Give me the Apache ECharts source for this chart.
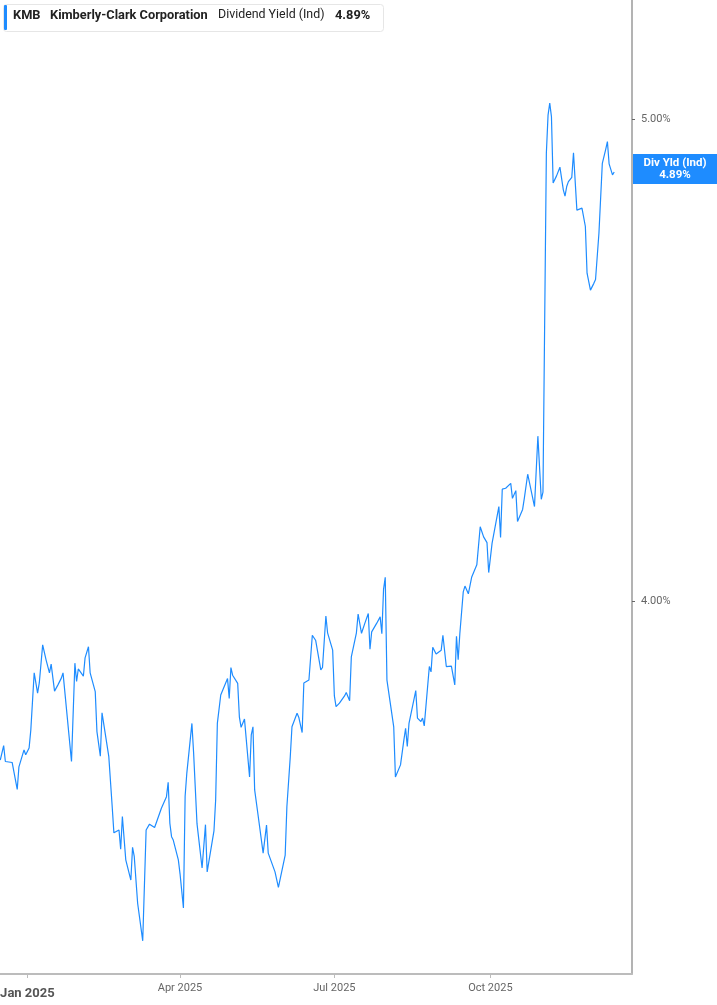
<!DOCTYPE html>
<html>
<head>
<meta charset="utf-8">
<script src="https://cdn.jsdelivr.net/npm/echarts@6/dist/echarts.min.js"></script>
<style>
html,body{margin:0;padding:0;background:#fff;}
#c{width:717px;height:1005px;}
</style>
</head>
<body>
<div id="c"></div>
<script>
const ticker = 'KMB';
const company = 'Kimberly-Clark Corporation';
const metric = 'Dividend Yield (Ind)';
const shortMetric = 'Div Yld (Ind)';
const xTickDates = ['2025-01-01', '2025-04-01', '2025-07-01', '2025-10-01'];
const yTickValues = [4, 5];

const dates = [
'2024-12-16','2024-12-18','2024-12-19','2024-12-20','2024-12-23','2024-12-26','2024-12-27','2024-12-30','2024-12-31',
'2025-01-02','2025-01-03','2025-01-05','2025-01-07','2025-01-08','2025-01-10','2025-01-12','2025-01-14','2025-01-15','2025-01-17','2025-01-19','2025-01-21','2025-01-22','2025-01-27','2025-01-29','2025-01-30','2025-01-31',
'2025-02-03','2025-02-04','2025-02-05','2025-02-06','2025-02-07','2025-02-10','2025-02-11','2025-02-13','2025-02-14','2025-02-18','2025-02-20','2025-02-21','2025-02-24','2025-02-25','2025-02-26','2025-02-28',
'2025-03-03','2025-03-04','2025-03-05','2025-03-07','2025-03-10','2025-03-12','2025-03-13','2025-03-14','2025-03-17','2025-03-18','2025-03-19','2025-03-21','2025-03-24','2025-03-25','2025-03-26','2025-03-27','2025-03-28','2025-03-31',
'2025-04-01','2025-04-02','2025-04-03','2025-04-04','2025-04-05','2025-04-08','2025-04-09','2025-04-11','2025-04-14','2025-04-16','2025-04-17','2025-04-21','2025-04-22','2025-04-23','2025-04-25','2025-04-29','2025-04-30',
'2025-05-01','2025-05-02','2025-05-05','2025-05-06','2025-05-07','2025-05-08','2025-05-09','2025-05-12','2025-05-13','2025-05-14','2025-05-15','2025-05-17','2025-05-20','2025-05-22','2025-05-23','2025-05-27','2025-05-28','2025-05-29','2025-05-30',
'2025-06-02','2025-06-03','2025-06-05','2025-06-06','2025-06-09','2025-06-10','2025-06-11','2025-06-12','2025-06-13','2025-06-16','2025-06-17','2025-06-18','2025-06-20','2025-06-23','2025-06-24','2025-06-26','2025-06-27','2025-06-30',
'2025-07-01','2025-07-02','2025-07-04','2025-07-07','2025-07-08','2025-07-10','2025-07-11','2025-07-14','2025-07-15','2025-07-17','2025-07-19','2025-07-21','2025-07-22','2025-07-23','2025-07-24','2025-07-26','2025-07-28','2025-07-29','2025-07-30','2025-07-31',
'2025-08-01','2025-08-05','2025-08-06','2025-08-07','2025-08-09','2025-08-11','2025-08-12','2025-08-13','2025-08-14','2025-08-18','2025-08-19','2025-08-21','2025-08-22','2025-08-23','2025-08-26','2025-08-27','2025-08-28','2025-08-30',
'2025-09-02','2025-09-03','2025-09-05','2025-09-08','2025-09-10','2025-09-11','2025-09-12','2025-09-13','2025-09-15','2025-09-16','2025-09-18','2025-09-19','2025-09-20','2025-09-23','2025-09-24','2025-09-25','2025-09-27','2025-09-29','2025-09-30',
'2025-10-02','2025-10-03','2025-10-06','2025-10-07','2025-10-08','2025-10-10','2025-10-13','2025-10-14','2025-10-16','2025-10-17','2025-10-20','2025-10-21','2025-10-22','2025-10-23','2025-10-24','2025-10-27','2025-10-28','2025-10-29','2025-10-31',
'2025-11-01','2025-11-03','2025-11-04','2025-11-05','2025-11-06','2025-11-07','2025-11-09','2025-11-11','2025-11-12','2025-11-13','2025-11-14','2025-11-15','2025-11-16','2025-11-18','2025-11-19','2025-11-21','2025-11-24','2025-11-25','2025-11-26','2025-11-27','2025-11-29',
'2025-12-01','2025-12-02','2025-12-04','2025-12-06','2025-12-08','2025-12-09','2025-12-10','2025-12-12','2025-12-13'
];

const yields = [
3.670,3.700,3.667,3.669,3.665,3.609,3.656,3.691,3.681,
3.695,3.732,3.851,3.809,3.830,3.909,3.878,3.851,3.869,3.813,3.826,3.840,3.851,3.667,3.871,3.833,3.859,
3.844,3.882,3.884,3.905,3.851,3.812,3.729,3.678,3.768,3.677,3.573,3.519,3.525,3.485,3.553,3.463,
3.421,3.489,3.470,3.373,3.295,3.525,3.523,3.537,3.530,3.540,3.537,3.570,3.594,3.624,3.539,3.511,3.504,3.463,
3.434,3.434,3.363,3.595,3.643,3.746,3.685,3.538,3.446,3.536,3.438,3.523,3.587,3.746,3.805,3.839,3.798,
3.862,3.846,3.829,3.759,3.738,3.739,3.755,3.635,3.722,3.739,3.608,3.556,3.477,3.535,3.477,3.438,3.440,3.406,3.409,
3.473,3.573,3.677,3.739,3.767,3.759,3.763,3.727,3.830,3.836,3.840,3.929,3.918,3.857,3.862,3.969,3.934,3.898,
3.803,3.781,3.788,3.803,3.810,3.793,3.884,3.934,3.973,3.933,3.954,3.974,3.900,3.936,3.940,3.954,3.967,3.932,4.024,4.049,
3.836,3.739,3.635,3.632,3.660,3.712,3.736,3.698,3.746,3.814,3.757,3.750,3.757,3.741,3.864,3.853,3.904,3.890,
3.898,3.929,3.864,3.865,3.826,3.927,3.878,3.933,4.019,4.031,4.015,4.016,4.050,4.075,4.077,4.154,4.133,4.121,4.059,
4.120,4.123,4.196,4.132,4.232,4.234,4.244,4.213,4.229,4.165,4.190,4.213,4.211,4.263,4.259,4.196,4.194,4.342,4.211,
4.226,4.929,5.008,5.033,5.005,4.867,4.882,4.900,4.900,4.853,4.840,4.860,4.870,4.879,4.930,4.811,4.815,4.817,4.777,4.680,4.645,
4.659,4.667,4.763,4.908,4.937,4.953,4.907,4.884,4.890
];

const MONTHS = ['Jan','Feb','Mar','Apr','May','Jun','Jul','Aug','Sep','Oct','Nov','Dec'];
function parseLocal(s){ const p = s.split('-').map(Number); return new Date(p[0], p[1]-1, p[2]).getTime(); }
const seriesData = dates.map((d, i) => [parseLocal(d), yields[i]]);
const xTicks = xTickDates.map(parseLocal);
const DAY = 864e5;
const base = parseLocal('2025-01-01');
const lastVal = yields[yields.length - 1];
const lastTxt = lastVal.toFixed(2) + '%';

const FONT = 'Roboto, "Liberation Sans", sans-serif';
const chart = echarts.init(document.getElementById('c'), null, {renderer: 'canvas'});

const option = {
  animation: false,
  backgroundColor: '#fff',
  grid: {left: 0, right: 85, top: 0, bottom: 31, containLabel: false, outerBoundsMode: 'none'},
  xAxis: {
    type: 'value',
    min: base - 16.16 * DAY,
    max: base + 356.5 * DAY,
    axisLine: {show: true, lineStyle: {color: '#bcbcbc', width: 2}},
    axisTick: {show: true, customValues: xTicks, length: 4, lineStyle: {color: '#bcbcbc', width: 1}},
    splitLine: {show: false},
    axisLabel: {
      customValues: xTicks,
      margin: 9,
      color: '#666',
      fontSize: 11,
      fontFamily: FONT,
      showMinLabel: true,
      showMaxLabel: true,
      hideOverlap: false,
      formatter: function (v) {
        const d = new Date(v);
        const t = MONTHS[d.getMonth()] + ' ' + d.getFullYear();
        return d.getMonth() === 0 ? '{b|' + t + '}' : t;
      },
      rich: {
        b: {fontSize: 13, fontWeight: 'bold', color: '#555', fontFamily: FONT, padding: [4, 0, 0, 0]}
      }
    }
  },
  yAxis: {
    type: 'value',
    position: 'right',
    min: 4 - 373 / 482,
    max: 4 + 601 / 482,
    axisLine: {show: true, lineStyle: {color: '#9a9a9a', width: 1.5}},
    axisTick: {show: true, customValues: yTickValues, length: 3, lineStyle: {color: '#666', width: 1}},
    splitLine: {show: false},
    axisLabel: {
      customValues: yTickValues,
      margin: 9,
      color: '#666',
      fontSize: 11,
      fontFamily: FONT,
      formatter: v => v.toFixed(2) + '%'
    }
  },
  series: [{
    type: 'line',
    data: seriesData,
    showSymbol: false,
    symbol: 'none',
    lineStyle: {color: '#1e8cff', width: 1.2},
    clip: true
  }]
};
chart.setOption(option);

const py = chart.convertToPixel({yAxisIndex: 0}, lastVal);
const boxH = 30;
chart.setOption({
  graphic: [
    {type: 'rect', left: 3, top: 4, shape: {width: 380, height: 27, r: 3}, style: {fill: '#fff', stroke: '#e6e6e6', lineWidth: 1}, z: 10},
    {type: 'rect', left: 4, top: 5, shape: {width: 3, height: 25, r: 1}, style: {fill: '#1e8cff'}, z: 11},
    {type: 'text', left: 13, top: 9, style: {text: ticker, font: 'bold 12.8px ' + FONT, fill: '#222'}, z: 11},
    {type: 'text', left: 50, top: 9, style: {text: company, font: 'bold 12.8px ' + FONT, fill: '#222'}, z: 11},
    {type: 'text', left: 218, top: 9, style: {text: metric, font: '12.4px ' + FONT, fill: '#222'}, z: 11},
    {type: 'text', left: 335, top: 9, style: {text: lastTxt, font: 'bold 12.8px ' + FONT, fill: '#222'}, z: 11},
    {type: 'rect', left: 633, top: py - boxH / 2 - 3, shape: {width: 84, height: boxH}, style: {fill: '#1e8cff'}, z: 10},
    {type: 'text', x: 675, y: py - 3, style: {text: shortMetric + '\n' + lastTxt, font: 'bold 11.5px ' + FONT, fill: '#fff', align: 'center', verticalAlign: 'middle', lineHeight: 12}, z: 11}
  ]
});
</script>
</body>
</html>
